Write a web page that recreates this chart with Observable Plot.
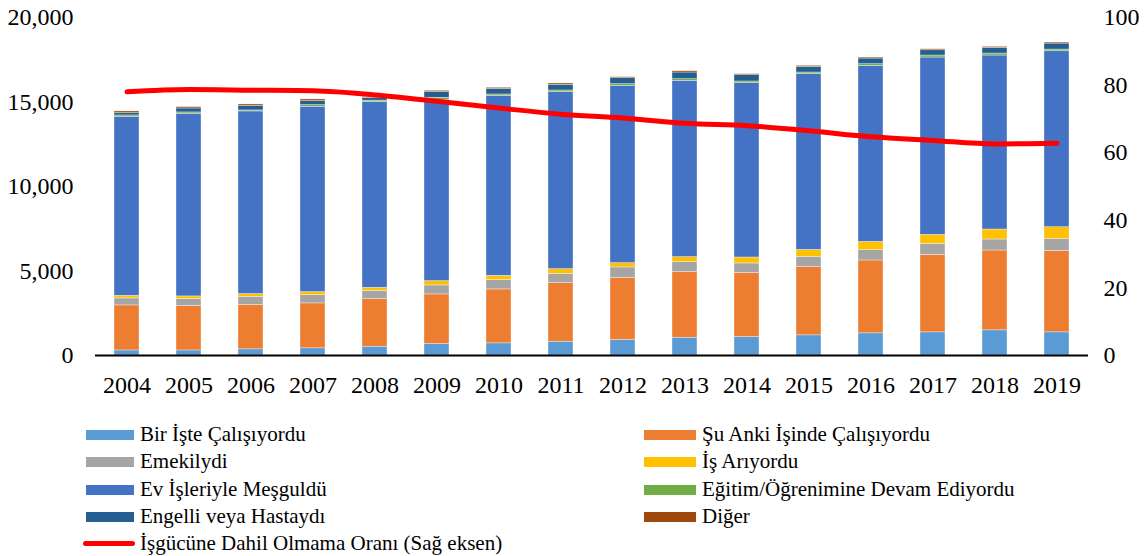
<!DOCTYPE html>
<html>
<head>
<meta charset="utf-8">
<script src="https://cdn.jsdelivr.net/npm/d3@7"></script>
<script src="https://cdn.jsdelivr.net/npm/@observablehq/plot@0.6"></script>
<style>
  html, body { margin: 0; padding: 0; background: #fff; }
  body { width: 1145px; height: 556px; position: relative; overflow: hidden; font-family: "Liberation Serif", "Times New Roman", serif; }
  #legend { position: absolute; left: 0; top: 0; width: 1145px; height: 556px; pointer-events: none; }
  .item { position: absolute; height: 27px; display: flex; align-items: center; font-family: "Liberation Serif", "Times New Roman", serif; font-size: 21px; color: #000; white-space: nowrap; }
  .sw { display: inline-block; height: 10px; margin-right: 6px; }
  .ln { display: inline-block; height: 5px; border-radius: 3px; margin-right: 5px; }
</style>
</head>
<body>
<div id="chart"></div>
<div id="legend"></div>
<script>
const years = [2004,2005,2006,2007,2008,2009,2010,2011,2012,2013,2014,2015,2016,2017,2018,2019];

const reasons = [
  "Bir İşte Çalışıyordu",
  "Şu Anki İşinde Çalışıyordu",
  "Emekilydi",
  "İş Arıyordu",
  "Ev İşleriyle Meşguldü",
  "Eğitim/Öğrenimine Devam Ediyordu",
  "Engelli veya Hastaydı",
  "Diğer"
];
const colors = ["#5B9BD5","#ED7D31","#A5A5A5","#FFC000","#4472C4","#70AD47","#255E91","#9E480E"];

// values (thousands) per reason, per year
const birIste      = [300,300,366,425,520,679,720,815,916,1051,1093,1193,1311,1370,1488,1370];
const suAnki       = [2665,2624,2635,2658,2817,2936,3190,3467,3679,3881,3798,4034,4312,4584,4726,4820];
const emekli       = [413,413,472,491,491,531,550,550,615,591,555,609,609,650,650,709];
const isAriyor     = [154,160,160,177,177,254,254,277,254,295,354,413,490,531,590,691];
const evIsleri     = [10573,10809,10809,10968,10986,10733,10655,10473,10496,10437,10313,10396,10419,10496,10296,10414];
const egitim       = [100,77,59,95,89,118,77,100,94,95,101,100,95,119,118,100];
const engelli      = [136,236,277,236,160,354,336,337,355,395,372,337,336,313,336,354];
const diger        = [101,77,77,101,40,59,59,77,59,77,59,59,59,59,59,59];

const rate = [78.0,78.7,78.5,78.3,77.1,75.2,73.2,71.4,70.3,68.7,68.0,66.5,64.7,63.6,62.6,62.8];
const lineLabel = "İşgücüne Dahil Olmama Oranı (Sağ eksen)";

const leftTicks = [0,5000,10000,15000,20000];
const rightTicks = [0,20,40,60,80,100];

const series = [birIste, suAnki, emekli, isAriyor, evIsleri, egitim, engelli, diger];
const table = [];
years.forEach((y, i) => {
  reasons.forEach((r, k) => table.push({year: y, reason: r, value: series[k][i]}));
});
const lineData = years.map((y, i) => ({year: y, rate: rate[i]}));
const k = 20000 / 100;

const chart = Plot.plot({
  width: 1145,
  height: 410,
  marginTop: 17,
  marginBottom: 55,
  marginLeft: 95,
  marginRight: 57,
  style: {fontFamily: "'Liberation Serif', 'Times New Roman', serif", fontSize: "24px", color: "#000", background: "#fff"},
  x: {domain: years, paddingInner: 0.6, paddingOuter: 0.3, tickSize: 0, tickPadding: 20, label: null, tickFormat: d => String(d)},
  y: {domain: [0, 20000], axis: null},
  color: {domain: reasons, range: colors},
  marks: [
    Plot.barY(table, {x: "year", y: "value", fill: "reason", order: reasons, stroke: "#fff", strokeWidth: 0.6, strokeOpacity: 0.6}),
    Plot.axisY(leftTicks, {anchor: "left", tickSize: 0, tickPadding: 22, tickFormat: d3.format(","), label: null}),
    Plot.axisY(rightTicks.map(d => d * k), {anchor: "right", tickSize: 0, tickPadding: 15, tickFormat: d => d / k, label: null}),
    Plot.ruleY([0], {stroke: "#000", strokeWidth: 2}),
    Plot.line(lineData, {x: "year", y: d => d.rate * k, stroke: "#FF0000", strokeWidth: 5, curve: "monotone-x", strokeLinecap: "round"})
  ]
});
document.getElementById("chart").appendChild(chart);

// legend
const legend = document.getElementById("legend");
const left = [0, 2, 4, 6];
const right = [1, 3, 5, 7];
const rowY = [421, 448, 476, 503, 530];
function addItem(x, y, swW, color, text, isLine) {
  const d = document.createElement("div");
  d.className = "item";
  d.style.left = x + "px";
  d.style.top = y + "px";
  const s = document.createElement("span");
  s.className = isLine ? "ln" : "sw";
  s.style.width = swW + "px";
  s.style.background = color;
  d.appendChild(s);
  d.appendChild(document.createTextNode(text));
  legend.appendChild(d);
}
left.forEach((idx, r) => addItem(86, rowY[r], 48, colors[idx], reasons[idx], false));
right.forEach((idx, r) => addItem(644, rowY[r], 52, colors[idx], reasons[idx], false));
addItem(83, rowY[4], 52, "#FF0000", lineLabel, true);
</script>
</body>
</html>
